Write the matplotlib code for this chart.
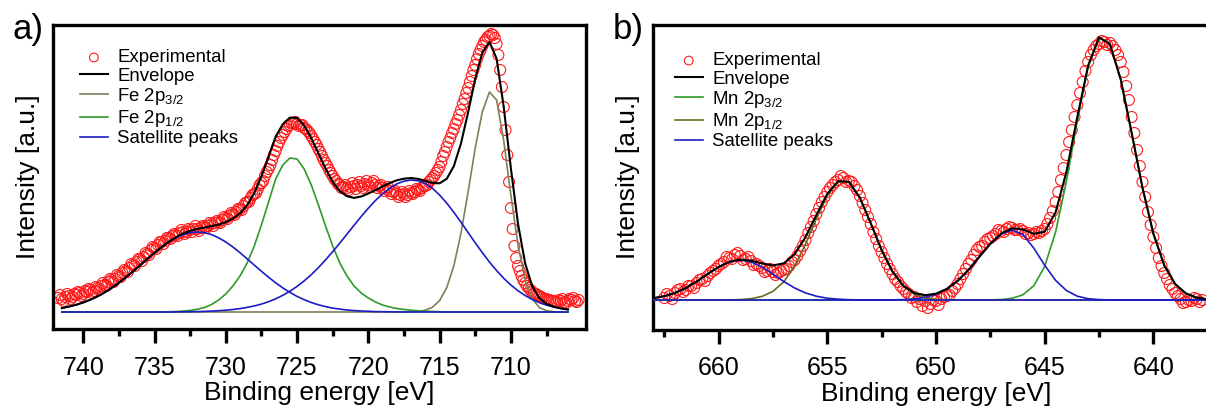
import numpy as np
import matplotlib
matplotlib.use("Agg")
import matplotlib.pyplot as plt

plt.rcParams['font.family'] = ['Liberation Sans', 'DejaVu Sans']
plt.rcParams['mathtext.fontset'] = 'custom'
plt.rcParams['mathtext.rm'] = 'Liberation Sans'
plt.rcParams['mathtext.it'] = 'Liberation Sans:italic'

# ---------------- PANEL A : Fe 2p ----------------
fe_exp_start = 741.75          # eV, one point every 0.125 eV towards lower BE
fe_exp = [14, 17, 13, 11, 15, 18, 16, 13, 15, 18, 17, 20, 19, 16, 18, 21, 20, 23, 22, 19,
          21, 25, 24, 22, 26, 29, 27, 26, 30, 33, 32, 30, 33, 37, 36, 35, 39, 42, 41, 40,
          44, 48, 47, 46, 50, 53, 53, 51, 55, 59, 58, 57, 62, 65, 64, 63, 67, 70, 70, 68,
          71, 74, 74, 73, 76, 78, 77, 76, 79, 82, 80, 78, 80, 83, 82, 80, 83, 86, 83, 81,
          84, 86, 85, 84, 86, 89, 88, 86, 89, 91, 90, 89, 92, 95, 94, 93, 96, 99, 98, 97,
          100, 103, 103, 102, 106, 109, 110, 110, 114, 117, 118, 119, 123, 127, 129, 131, 136, 140, 143, 147,
          152, 157, 161, 166, 170, 174, 177, 180, 183, 186, 187, 189, 189, 190, 188, 186, 187, 187, 184, 183,
          181, 179, 176, 173, 170, 167, 163, 160, 156, 152, 149, 146, 142, 139, 136, 133, 131, 128, 127, 124,
          125, 127, 124, 122, 125, 129, 126, 123, 127, 130, 126, 124, 128, 131, 127, 125, 129, 131, 127, 124,
          126, 127, 124, 121, 123, 125, 121, 118, 120, 121, 118, 115, 117, 120, 118, 115, 117, 121, 119, 118,
          120, 123, 122, 121, 124, 126, 126, 127, 130, 132, 134, 136, 139, 142, 145, 150, 156, 160, 165, 170,
          174, 179, 183, 188, 192, 197, 202, 208, 213, 219, 224, 230, 236, 242, 247, 253, 258, 262, 266, 270,
          272, 275, 276, 278, 277, 274, 268, 257, 242, 225, 205, 182, 157, 130, 104, 83, 66, 54, 46, 41,
          36, 32, 29, 26, 24, 22, 20, 19, 18, 17, 16, 15, 14, 13, 13, 12, 12, 11, 11, 10,
          10, 12, 11, 13, 10, 9, 11, 13, 12, 14, 11, 10, 12]

fe_fit_grid = (741.5, 706.0)   # eV, fitted curves sampled every 0.5 eV
fe_sat1_start = 741.5
fe_sat1 = [3.9, 5.4, 7.2, 9.5, 12.3, 15.6, 19.6, 24.1, 29.2, 34.8,
           40.7, 46.9, 53.2, 59.3, 65.0, 70.0, 74.2, 77.4, 79.3, 80.0,
           79.3, 77.4, 74.2, 70.0, 65.0, 59.3, 53.2, 46.9, 40.7, 34.8,
           29.2, 24.1, 19.6, 15.6, 12.3, 9.5, 7.2, 5.4, 3.9, 2.9,
           2.0, 1.4, 1.0, 0.7, 0.4, 0.3, 0.2, 0.1]
fe_2p12_start = 734.0
fe_2p12 = [0.2, 0.5, 0.9, 1.6, 2.7, 4.5, 7.5, 12, 18, 26,
           36, 49, 66, 87, 110, 133, 147, 154, 153, 143,
           127, 107, 86, 66, 49, 36, 26, 19, 14, 10,
           7, 5, 3.5, 2.5, 1.8, 1.2, 0.8, 0.5, 0.3]
fe_sat2_start = 733.5
fe_sat2 = [0.1, 0.2, 0.3, 0.4, 0.6, 0.9, 1.3, 1.8, 2.5, 3.4,
           4.6, 6.1, 7.9, 10.3, 13.2, 16.7, 20.8, 25.6, 31.1, 37.4,
           44.4, 52.1, 60.3, 68.9, 77.8, 86.7, 95.5, 103.8, 111.5, 118.2,
           123.8, 128.1, 130.8, 132.0, 131.3, 128.5, 123.7, 117.0, 108.9, 99.7,
           89.8, 79.5, 69.2, 59.3, 49.9, 41.4, 33.7, 27.0, 21.3, 16.5,
           12.6, 9.4, 6.9, 5.0, 3.6, 2.5]
fe_2p32_start = 717.0
fe_2p32 = [0.2, 0.6, 1.8, 4.8, 11.4, 24.3, 46.2, 78.8, 120.1, 164.0,
           200.3, 220.0, 212.0, 171.2, 116.8, 67.0, 32.3, 13.1, 4.5, 1.3, 0.3]

fe_major = [740, 735, 730, 725, 720, 715, 710]
fe_minor = [737.5, 732.5, 727.5, 722.5, 717.5, 712.5, 707.5]

# ---------------- PANEL B : Mn 2p ----------------
mn_exp_start = 662.5
mn_exp = [2, 6, 4, 1, 7, 10, 11, 8, 10, 14, 14, 12, 17, 20, 21, 19, 24, 27, 29, 31,
          34, 36, 38, 43, 42, 41, 45, 47, 44, 40, 41, 43, 39, 35, 36, 34, 32, 28, 29, 31,
          28, 25, 27, 29, 30, 31, 34, 38, 40, 44, 49, 54, 60, 67, 73, 79, 86, 92, 98, 103,
          108, 112, 115, 118, 120, 124, 122, 118, 119, 118, 114, 110, 104, 97, 90, 83, 76, 68, 61, 54,
          48, 42, 36, 31, 26, 21, 18, 14, 11, 8, 6, 2, 3, -2, 1, -6, -1, -8, -4, 0,
          -1, -5, 1, 3, 4, 5, 9, 12, 16, 21, 26, 31, 36, 40, 45, 50, 53, 54, 58, 61,
          62, 64, 66, 70, 69, 68, 71, 73, 72, 70, 70, 71, 69, 66, 67, 65, 66, 68, 67, 69,
          71, 76, 82, 89, 98, 108, 120, 132, 145, 158, 170, 183, 195, 207, 218, 229, 238, 245, 250, 254,
          256, 259, 258, 255, 257, 254, 250, 245, 238, 228, 214, 200, 183, 167, 150, 134, 118, 103, 88, 75,
          63, 52, 42, 34, 27, 21, 15, 11, 7, 4, 1, -3, -2, 0, -1, 2, 1, -2, 0]

mn_fit_grid = (663.0, 637.0)
mn_sat1_start = 663.0
mn_sat1 = [1.8, 3.8, 7.1, 12.0, 18.5, 26.0, 33.0, 38.1, 40.0, 38.1,
           33.0, 26.0, 18.5, 12.0, 7.1, 3.8, 1.8, 0.8, 0.3, 0.1]
mn_2p12_start = 659.5
mn_2p12 = [0.1, 0.4, 1.3, 3.6, 8.6, 18.1, 33.8, 55.8, 81.2, 104.3,
           118.1, 117.9, 102.2, 76.8, 50.0, 28.3, 13.8, 5.9, 2.2, 0.7, 0.2]
mn_sat2_start = 652.0
mn_sat2 = [0.15, 0.4, 1.1, 2.6, 5.6, 10.9, 19.1, 30.2, 43.3, 56.1,
           65.9, 70.0, 65.4, 51.9, 34.8, 19.7, 9.5, 3.8, 1.3, 0.4, 0.1]
mn_2p32_start = 647.5
mn_2p32 = [0.1, 0.5, 1.7, 5.2, 14.3, 33.5, 67.8, 118.6, 179.0, 233.2,
           262.3, 256.0, 220.4, 167.3, 112.2, 66.3, 34.7, 16.0, 6.5, 2.3,
           0.7, 0.2]

mn_major = [660, 655, 650, 645, 640]
mn_minor = [662.5, 657.5, 652.5, 647.5, 642.5, 637.5]

# ---------------- STYLE ----------------
RED = '#ff1a1a'
BLACK = '#000000'
GREEN = '#2e9a2a'
BLUE = '#1c1cc4'
OLIVE_A = '#7e7e58'
OLIVE_B = '#6a6a1c'
SPINE_W = 2.4


def on_grid(grid_range, start, values, step=0.5):
    hi, lo = grid_range
    grid = np.arange(hi, lo - step / 2, -step)
    out = np.zeros(len(grid))
    i0 = int(round((hi - start) / step))
    out[i0:i0 + len(values)] = values
    return grid, out


def exp_axis(start, values, step=0.125):
    return start - step * np.arange(len(values)), np.array(values, dtype=float)


def style_axes(ax, xlim, ylim, major, minor):
    ax.set_xlim(*xlim)
    ax.set_ylim(*ylim)
    ax.set_yticks([])
    ax.set_xticks(major)
    ax.set_xticks(minor, minor=True)
    ax.tick_params(axis='x', which='major', direction='out', length=10,
                   width=SPINE_W, labelsize=18, pad=9)
    ax.tick_params(axis='x', which='minor', direction='out', length=5,
                   width=SPINE_W)
    for sp in ax.spines.values():
        sp.set_linewidth(SPINE_W)
    ax.set_xlabel('Binding energy [eV]', fontsize=19, labelpad=1)


def draw_panel(ax, exp_x, exp_y, grid, env, parts):
    h_exp = ax.scatter(exp_x, exp_y, s=62, facecolors='none', edgecolors=RED,
                       linewidths=0.8, zorder=2)
    h_env, = ax.plot(grid, env, color=BLACK, lw=1.5, zorder=4)
    handles = [h_exp, h_env]
    seen = set()
    for y, color in parts:
        ln, = ax.plot(grid, y, color=color, lw=1.2, zorder=3)
        if color not in seen:
            seen.add(color)
            handles.append(ln)
    return handles


def add_legend(ax, handles, labels, anchor):
    ax.legend(handles, labels, loc='upper left', bbox_to_anchor=anchor,
              frameon=False, fontsize=13.4, handlelength=1.5,
              handletextpad=0.5, labelspacing=0.065, borderpad=0,
              borderaxespad=0, markerscale=0.8)


fig = plt.figure(figsize=(12.06, 4.12), dpi=100)

# ---- panel a ----
ax_a = fig.add_axes([53.3 / 1206, 82.7 / 412, 532.4 / 1206, 304.3 / 412])
ex, ey = exp_axis(fe_exp_start, fe_exp)
g, s1 = on_grid(fe_fit_grid, fe_sat1_start, fe_sat1)
_, p12 = on_grid(fe_fit_grid, fe_2p12_start, fe_2p12)
_, s2 = on_grid(fe_fit_grid, fe_sat2_start, fe_sat2)
_, p32 = on_grid(fe_fit_grid, fe_2p32_start, fe_2p32)
env_a = s1 + p12 + s2 + p32
hs = draw_panel(ax_a, ex, ey, g, env_a,
                [(p32, OLIVE_A), (p12, GREEN), (s1, BLUE), (s2, BLUE)])
style_axes(ax_a, (742.1, 704.75), (-17.3, 287), fe_major, fe_minor)
add_legend(ax_a, hs, ['Experimental', 'Envelope', r'Fe 2p$_{\mathregular{3/2}}$',
                      r'Fe 2p$_{\mathregular{1/2}}$', 'Satellite peaks'], (0.05, 0.92))

# ---- panel b ----
ax_b = fig.add_axes([653.3 / 1206, 82 / 412, 565.3 / 1206, 305 / 412])
ex, ey = exp_axis(mn_exp_start, mn_exp)
g, s1 = on_grid(mn_fit_grid, mn_sat1_start, mn_sat1)
_, p12 = on_grid(mn_fit_grid, mn_2p12_start, mn_2p12)
_, s2 = on_grid(mn_fit_grid, mn_sat2_start, mn_sat2)
_, p32 = on_grid(mn_fit_grid, mn_2p32_start, mn_2p32)
env_b = s1 + p12 + s2 + p32
hs = draw_panel(ax_b, ex, ey, g, env_b,
                [(p32, GREEN), (p12, OLIVE_B), (s1, BLUE), (s2, BLUE)])
style_axes(ax_b, (663.0, 637.0), (-30, 275), mn_major, mn_minor)
add_legend(ax_b, hs, ['Experimental', 'Envelope', r'Mn 2p$_{\mathregular{3/2}}$',
                      r'Mn 2p$_{\mathregular{1/2}}$', 'Satellite peaks'], (0.038, 0.91))

# ---- labels ----
for x, tag in [(28, 'a)'), (628, 'b)')]:
    fig.text(x / 1206, 1 - 29 / 412, tag, fontsize=25, ha='center', va='center')
for x in [28, 628]:
    fig.text(x / 1206, 1 - 177 / 412, 'Intensity [a.u.]', fontsize=19,
             rotation=90, ha='center', va='center')

fig.savefig('out.png', dpi=100)
